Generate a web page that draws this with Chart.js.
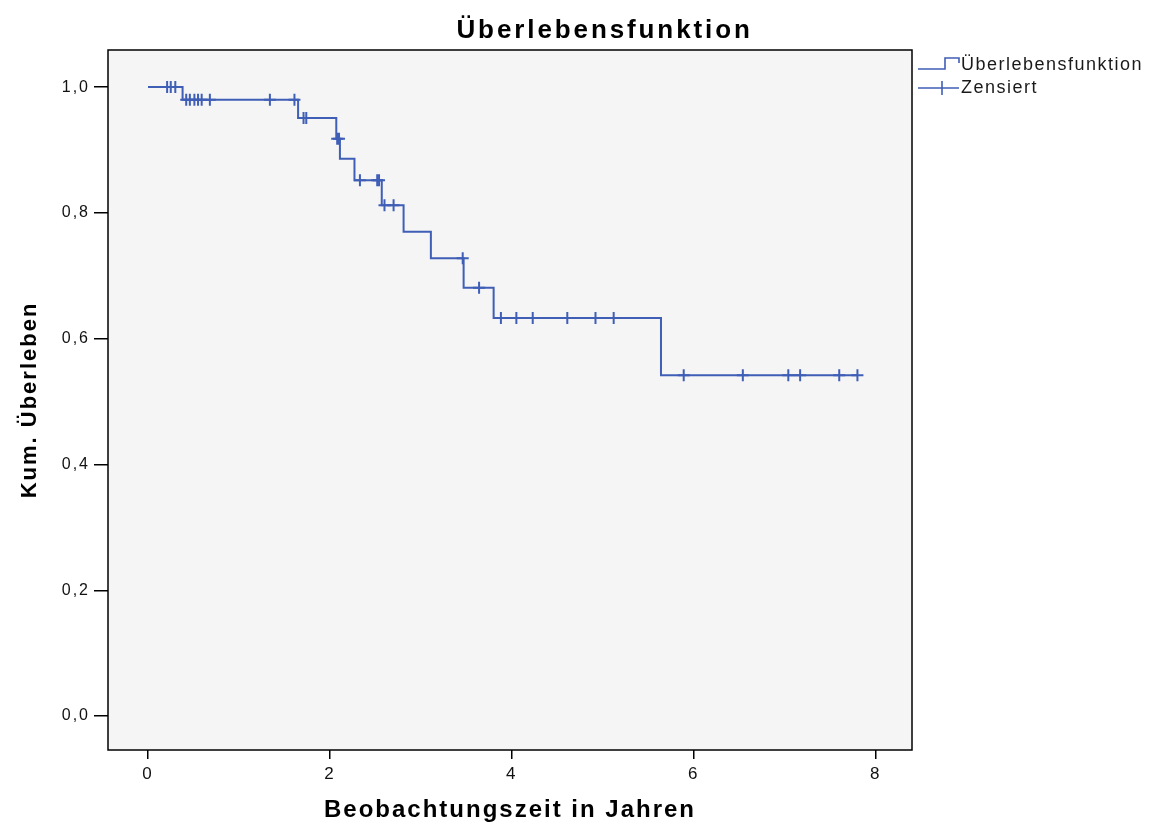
<!DOCTYPE html>
<html>
<head>
<meta charset="utf-8">
<script src="https://cdn.jsdelivr.net/npm/chart.js@4.4.1/dist/chart.umd.min.js"></script>
<style>
  html, body { margin: 0; padding: 0; background: #fff; }
  #wrap { width: 1156px; height: 829px; position: relative; }
</style>
</head>
<body>
<div id="wrap"><canvas id="kmChart"></canvas></div>
<script>
// Kaplan-Meier steps (time in years, cumulative survival after the event)
const eventTimes = [0, 0.38, 1.65, 2.07, 2.11, 2.27, 2.57, 2.81, 3.11, 3.47, 3.80, 5.64, 7.80];
const survival = [1.0, 0.980, 0.951, 0.918, 0.886, 0.852, 0.812, 0.770, 0.728, 0.681, 0.633, 0.542, 0.542];

// censored observations
const censorTimes = [0.21, 0.25, 0.30,
  0.42, 0.46, 0.51, 0.55, 0.59, 0.68, 1.34, 1.61,
  1.71, 1.74,
  2.08, 2.10,
  2.33, 2.52, 2.54,
  2.60, 2.70,
  3.46,
  3.64,
  3.88, 4.05, 4.23, 4.61, 4.92, 5.12,
  5.89, 6.54, 7.04, 7.17, 7.60, 7.80];
const censorSurv = [1.0, 1.0, 1.0,
  0.980, 0.980, 0.980, 0.980, 0.980, 0.980, 0.980, 0.980,
  0.951, 0.951,
  0.918, 0.918,
  0.852, 0.852, 0.852,
  0.812, 0.812,
  0.728,
  0.681,
  0.633, 0.633, 0.633, 0.633, 0.633, 0.633,
  0.542, 0.542, 0.542, 0.542, 0.542, 0.542];

const xTicks = [0, 2, 4, 6, 8];
const yTicks = [0, 0.2, 0.4, 0.6, 0.8, 1.0];

const chartTitle = "Überlebensfunktion";
const legendLabels = ["Überlebensfunktion", "Zensiert"];
const lineColor = "#3f5eb6";
const FONT = "'Liberation Sans', Arial, sans-serif";

// plot background, frame, title and legend
const framePlugin = {
  id: "frame",
  beforeDraw(chart) {
    const { ctx, chartArea: a } = chart;
    ctx.letterSpacing = "2px";
    ctx.save();
    ctx.fillStyle = "#f5f5f5";
    ctx.fillRect(a.left, a.top, a.right - a.left, a.bottom - a.top);
    ctx.restore();
  },
  afterDraw(chart) {
    const { ctx, chartArea: a } = chart;
    ctx.save();
    ctx.strokeStyle = "#000";
    ctx.lineWidth = 1.5;
    ctx.strokeRect(a.left, a.top, a.right - a.left, a.bottom - a.top);

    // title
    ctx.fillStyle = "#000";
    ctx.font = "bold 26px " + FONT;
    ctx.letterSpacing = "2.9px";
    ctx.textAlign = "center";
    ctx.textBaseline = "alphabetic";
    ctx.fillText(chartTitle, chart.width * 0.523, 38);

    // legend
    const lx = a.right + 6;
    ctx.strokeStyle = lineColor;
    ctx.lineWidth = 1.6;
    ctx.beginPath();
    ctx.moveTo(lx, 69);
    ctx.lineTo(lx + 27, 69);
    ctx.lineTo(lx + 27, 58);
    ctx.lineTo(lx + 41, 58);
    ctx.lineTo(lx + 41, 63);
    ctx.stroke();
    ctx.beginPath();
    ctx.moveTo(lx, 88);
    ctx.lineTo(lx + 41, 88);
    ctx.moveTo(lx + 24, 81);
    ctx.lineTo(lx + 24, 95);
    ctx.stroke();

    ctx.fillStyle = "#1a1a1a";
    ctx.font = "18px " + FONT;
    ctx.letterSpacing = "1.5px";
    ctx.textAlign = "left";
    ctx.textBaseline = "middle";
    ctx.fillText(legendLabels[0], lx + 43, 65);
    ctx.fillText(legendLabels[1], lx + 43, 88);
    ctx.restore();
  },
};

const ctx = document.getElementById("kmChart").getContext("2d");

const kmChart = new Chart(ctx, {
  type: "line",
  data: {
    datasets: [
      {
        label: legendLabels[0],
        data: eventTimes.map((t, i) => ({ x: t, y: survival[i] })),
        stepped: "before",
        borderColor: lineColor,
        borderWidth: 2,
        pointRadius: 0,
        fill: false,
      },
      {
        label: legendLabels[1],
        data: censorTimes.map((t, i) => ({ x: t, y: censorSurv[i] })),
        showLine: false,
        pointStyle: "cross",
        pointRadius: 6,
        borderColor: lineColor,
        borderWidth: 2,
      },
    ],
  },
  options: {
    responsive: true,
    maintainAspectRatio: false,
    animation: false,
    layout: { padding: { top: 50, right: 244, bottom: 0, left: 0 } },
    scales: {
      x: {
        type: "linear",
        min: -0.44,
        max: 8.4,
        afterBuildTicks: (s) => { s.ticks = xTicks.map((v) => ({ value: v })); },
        afterFit: (s) => { s.height = 79; },
        border: { display: false },
        grid: { drawOnChartArea: false, drawTicks: true, tickLength: 9, color: "#000", lineWidth: 1.5 },
        ticks: {
          color: "#111",
          font: { family: FONT, size: 17 },
          padding: 5,
          callback: (v) => String(v),
        },
        title: {
          display: true,
          text: "Beobachtungszeit in Jahren",
          color: "#000",
          font: { family: FONT, size: 24, weight: "bold" },
          padding: { top: 0, bottom: 4 },
        },
      },
      y: {
        type: "linear",
        min: -0.054,
        max: 1.059,
        afterBuildTicks: (s) => { s.ticks = yTicks.map((v) => ({ value: v })); },
        afterFit: (s) => { s.width = 108; },
        border: { display: false },
        grid: { drawOnChartArea: false, drawTicks: true, tickLength: 14, color: "#000", lineWidth: 1.5 },
        ticks: {
          color: "#111",
          font: { family: FONT, size: 16 },
          padding: 4,
          callback: (v) => v.toFixed(1).replace(".", ","),
        },
        title: {
          display: true,
          text: "Kum. Überleben",
          color: "#000",
          font: { family: FONT, size: 22, weight: "bold" },
          padding: { top: 17, bottom: 0 },
        },
      },
    },
    plugins: {
      legend: { display: false },
      title: { display: false },
      tooltip: { enabled: false },
    },
  },
  plugins: [framePlugin],
});
</script>
</body>
</html>
